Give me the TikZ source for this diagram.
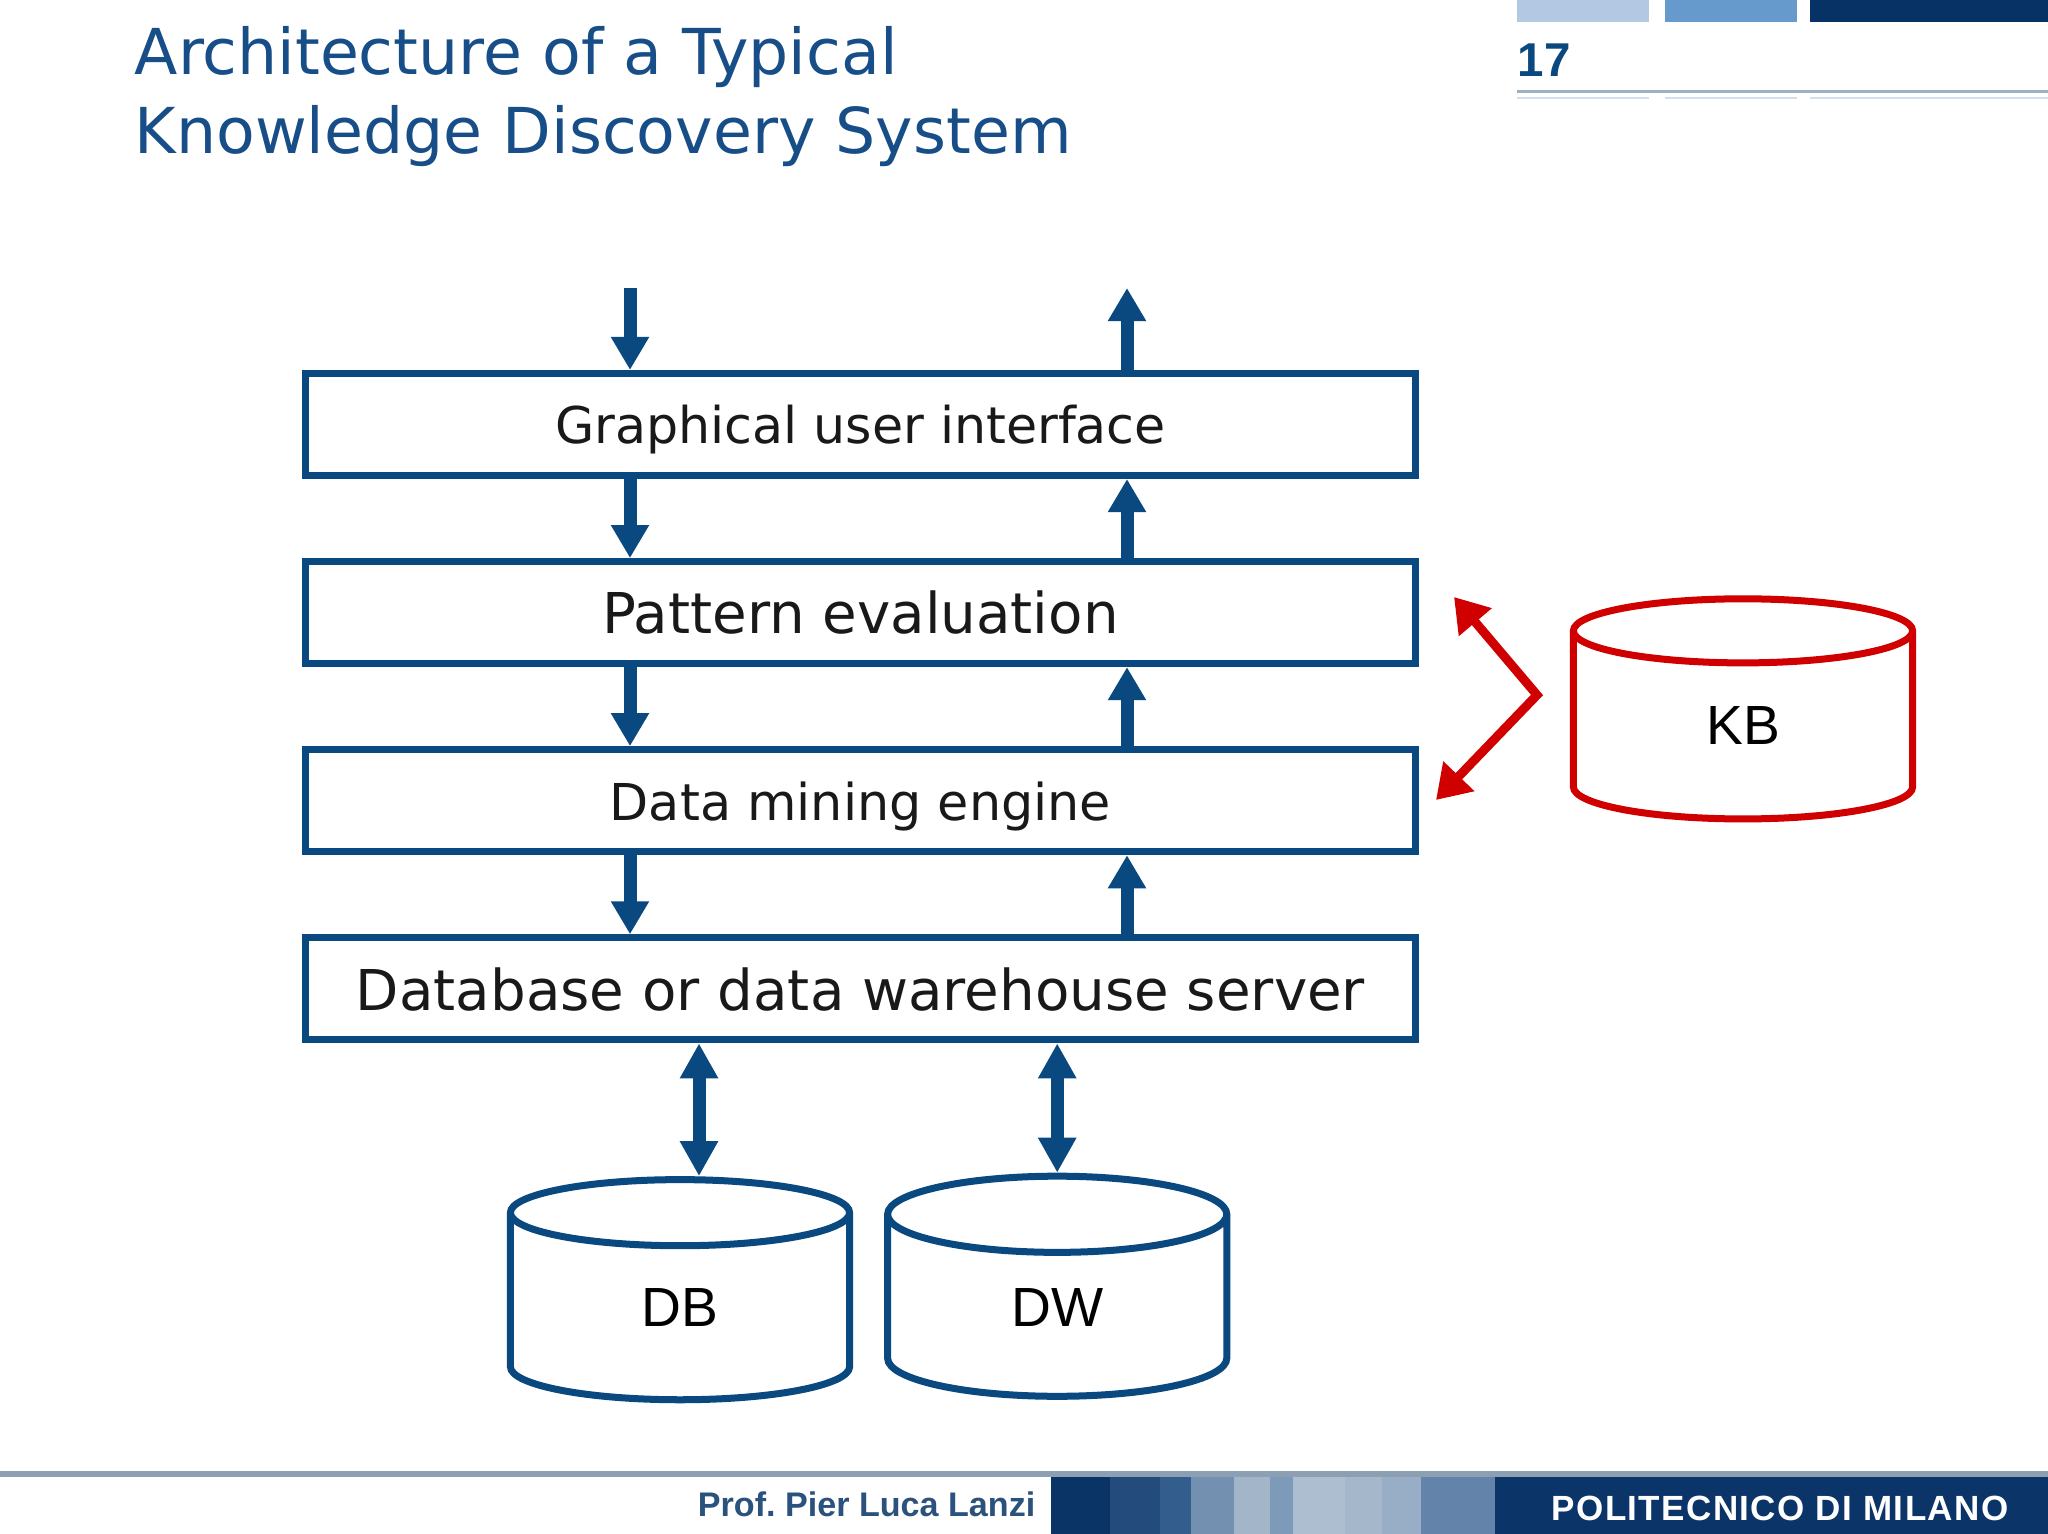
\documentclass[tikz,border=0pt]{standalone}
\usepackage{fontspec}
\setmainfont{DejaVu Sans}
\newfontfamily\arialfont{Liberation Sans}
\usetikzlibrary{arrows.meta,shapes.geometric}

\definecolor{layerblue}{RGB}{10,72,128}
\definecolor{titleblue}{RGB}{24,78,136}
\definecolor{kbred}{RGB}{208,0,0}
\definecolor{navy}{RGB}{6,50,102}
\definecolor{barlight}{HTML}{B3C9E3}
\definecolor{barmid}{HTML}{6699CC}
\definecolor{rulegrey}{HTML}{9DB1C6}
\definecolor{rulefaint}{HTML}{D5DFEA}

\tikzset{
    layer/.style = {draw=layerblue, line width=0.07cm, fill=white, minimum width=11.09cm,
                    minimum height=1.02cm, inner sep=0pt, text depth=0pt, text=black!90},
    store/.style = {cylinder, shape border rotate=90, aspect=0.66, draw=#1, line width=0.07cm,
                    minimum width=3.39cm, minimum height=2.2cm, text height=0.24cm, text depth=0pt,
                    font=\arialfont\fontsize{15.7}{18}\selectfont},
    flow/.style = {draw=layerblue, line width=0.13cm, -{Triangle[width=0.36cm,length=0.33cm]}},
    twoway/.style = {draw=layerblue, line width=0.13cm,
                     {Triangle[width=0.36cm,length=0.35cm]}-{Triangle[width=0.36cm,length=0.35cm]}},
    kblink/.style = {draw=kbred, line width=0.09cm,
                     {Triangle[width=0.41cm,length=0.33cm]}-{Triangle[width=0.41cm,length=0.33cm]}}
}

\begin{document}
\begin{tikzpicture}[x=0.01cm, y=-0.01cm, node distance = 1.88cm]
    \useasboundingbox (0,0) rectangle (2048,1534);
    \fill[white] (0,0) rectangle (2048,1534);

    % header
    \node (title) [anchor=base west, inner sep=0pt, text=titleblue, font=\fontsize{18}{20}\selectfont]
        at (134,75) {Architecture of a Typical};
    \node (subtitle) [anchor=base west, inner sep=0pt, text=titleblue, font=\fontsize{18}{20}\selectfont]
        at (134,154) {Knowledge Discovery System};
    \fill[barlight] (1517,0) rectangle (1649,22);
    \fill[barmid] (1665,0) rectangle (1797,22);
    \fill[navy] (1810,0) rectangle (2048,22);
    \node (page) [anchor=base west, inner sep=0pt, text=layerblue, font=\arialfont\bfseries\fontsize{13.5}{15}\selectfont]
        at (1517,77) {17};
    \draw[line width=0.03cm, rulegrey] (1517,92) -- (2048,92);
    \draw[line width=0.02cm, rulefaint] (1517,98) -- (1649,98) (1665,98) -- (1797,98) (1810,98) -- (2048,98);

    % layers
    \node (gui) [layer, font=\fontsize{14.4}{17}\selectfont] at (860.5,424.5) {Graphical user interface};
    \node (pe) [layer, below of = gui, font=\fontsize{16}{19}\selectfont] {Pattern evaluation};
    \node (dme) [layer, below of = pe, font=\fontsize{14.45}{17}\selectfont] {Data mining engine};
    \node (server) [layer, below of = dme, font=\fontsize{16}{19}\selectfont] {Database or data warehouse server};

    % stores
    \node (db) [store=layerblue] at (680,1314) {DB};
    \node (dw) [store=layerblue, right of = db, node distance = 3.77cm] {DW};
    \node (kb) [store=kbred] at (1743,732.5) {KB};

    % request goes down, results come up
    \coordinate (userin) at (630,288);
    \coordinate (userout) at (1127,288);
    \path (userin) edge [flow] (gui.north -| userin);
    \path (gui.north -| userout) edge [flow] (userout);
    \path (gui.south -| userin) edge [flow] (pe.north -| userin);
    \path (pe.north -| userout) edge [flow] (gui.south -| userout);
    \path (pe.south -| userin) edge [flow] (dme.north -| userin);
    \path (dme.north -| userout) edge [flow] (pe.south -| userout);
    \path (dme.south -| userin) edge [flow] (server.north -| userin);
    \path (server.north -| userout) edge [flow] (dme.south -| userout);

    \coordinate (dblink) at ([xshift=0.19cm]db.north);
    \path (server.south -| dblink) edge [twoway] (dblink);
    \path (server.south -| dw.north) edge [twoway] (dw.north);

    % knowledge base
    \coordinate (kbpe) at (1454,597);
    \coordinate (kbhub) at (1537,695);
    \coordinate (kbdme) at (1436,800);
    \draw[kblink] (kbpe) -- (kbhub) -- (kbdme);

    % footer
    \fill[rulegrey!90!black] (0,1471) rectangle (2048,1477);
    \foreach \xa/\xb/\hex in {1051/1110/0A3466, 1110/1160/234C7D, 1160/1191/325D8C, 1191/1234/7390B0,
                              1234/1270/A2B5C9, 1270/1293/7E9AB9, 1293/1345/ADBED0, 1345/1382/A4B7CB,
                              1382/1421/98AEC6, 1421/1495/6483AA, 1495/2048/0B3468}
        {\definecolor{stripe}{HTML}{\hex}
         \fill[stripe] (\xa,1477) rectangle (\xb,1534);}
    \node (author) [anchor=base east, inner sep=0pt, text=navy!85!white, font=\arialfont\bfseries\fontsize{9.7}{11}\selectfont]
        at (1036,1516) {Prof.\ Pier Luca Lanzi};
    \node (polimi) [anchor=base west, inner sep=0pt, text=white,
                    font=\arialfont\bfseries\addfontfeatures{LetterSpace=4}\fontsize{9.95}{11}\selectfont]
        at (1551,1520) {POLITECNICO DI MILANO};
\end{tikzpicture}
\end{document}
